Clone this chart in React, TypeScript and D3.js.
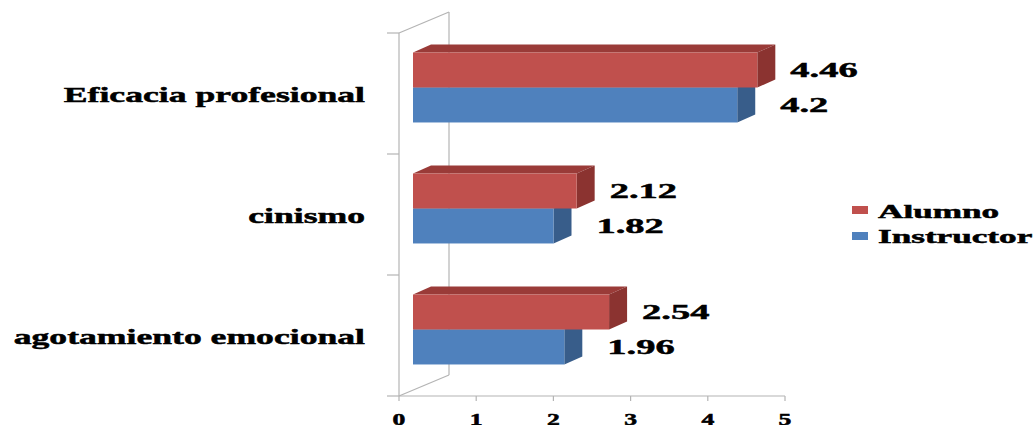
import React from "react";
import * as d3 from "d3";

// chart data
const categories = ["Eficacia profesional", "cinismo", "agotamiento emocional"];
const seriesNames = ["Alumno", "Instructor"];
const alumno = [4.46, 2.12, 2.54];
const instructor = [4.2, 1.82, 1.96];
const xTicks = [0, 1, 2, 3, 4, 5];

const colors = {
  Alumno: { front: "#c0504d", top: "#9a3b38", side: "#8b3330" },
  Instructor: { front: "#4f81bd", top: "#3f6797", side: "#385d8a" },
};

const W = 1035;
const H = 425;
const font = "'Liberation Serif', 'Times New Roman', serif";

// 3d offsets: the whole wall and the bars' depth
const wall = { dx: 50, dy: -21 };
const barFront = { dx: 14, dy: -6 };
const barDepth = { dx: 18, dy: -8 };

// text in the reference is stretched sideways and very heavy
const Stretched = ({ x, y, sx, size, anchor = "start", children }: any) => (
  <text
    transform={`translate(${x},${y}) scale(${sx},1)`}
    textAnchor={anchor}
    fontFamily={font}
    fontWeight="bold"
    fontSize={size}
    fill="#000"
    stroke="#000"
    strokeWidth={0.5}
  >
    {children}
  </text>
);

export default function App() {
  const x = d3.scaleLinear().domain([0, 5]).range([399, 785]);
  const y = d3.scaleBand().domain(categories).range([33, 396]).padding(0);
  const inner = d3
    .scaleBand()
    .domain(seriesNames)
    .range([0, y.bandwidth()])
    .paddingInner(0)
    .paddingOuter(0.73);

  const values: Record<string, number[]> = { Alumno: alumno, Instructor: instructor };
  const labelGap: Record<string, number> = { Alumno: 33, Instructor: 43 };

  const x0 = x(0);
  const yTop = y.range()[0];
  const yBot = y.range()[1];
  const gray = "#b4b4b4";

  // draw Instructor first so the Alumno bar sits over it
  const drawOrder = ["Instructor", "Alumno"];

  const bar = (name: string, i: number) => {
    const v = values[name][i];
    const c = (colors as any)[name];
    const bx0 = x(0) + barFront.dx;
    const bx1 = x(v) + barFront.dx;
    const by0 = (y(categories[i]) as number) + (inner(name) as number) + barFront.dy;
    const by1 = by0 + inner.bandwidth();
    const { dx, dy } = barDepth;
    const topFace = `M${bx0},${by0}L${bx0 + dx},${by0 + dy}L${bx1 + dx},${by0 + dy}L${bx1},${by0}Z`;
    const sideFace = `M${bx1},${by0}L${bx1 + dx},${by0 + dy}L${bx1 + dx},${by1 + dy}L${bx1},${by1}Z`;
    return (
      <g key={name + i}>
        <path d={topFace} fill={c.top} />
        <path d={sideFace} fill={c.side} />
        <rect x={bx0} y={by0} width={bx1 - bx0} height={by1 - by0} fill={c.front} />
      </g>
    );
  };

  return (
    <svg width={W} height={H} style={{ position: "absolute", left: 0, top: 0, background: "#fff" }}>
      {/* walls */}
      <g stroke={gray} strokeWidth={1.2} fill="none">
        <line x1={x0} y1={yTop} x2={x0} y2={yBot} />
        <line x1={x0 + wall.dx} y1={yTop + wall.dy} x2={x0 + wall.dx} y2={yBot + wall.dy} />
        <line x1={x0} y1={yTop} x2={x0 + wall.dx} y2={yTop + wall.dy} />
        <line x1={x0} y1={yBot} x2={x0 + wall.dx} y2={yBot + wall.dy} />
        <line x1={x0} y1={yBot} x2={x(5)} y2={yBot} />
        {[...categories.map((d) => y(d) as number), yBot].map((yy, i) => (
          <line key={"lt" + i} x1={x0 - 12} y1={yy} x2={x0} y2={yy} />
        ))}
        {xTicks.map((t) => (
          <line key={"bt" + t} x1={x(t)} y1={yBot} x2={x(t)} y2={yBot + 5} />
        ))}
      </g>

      {/* bars */}
      {categories.map((_, i) => drawOrder.map((name) => bar(name, i)))}

      {/* value labels */}
      {categories.map((cat, i) =>
        seriesNames.map((name) => {
          const v = values[name][i];
          const cy = (y(cat) as number) + (inner(name) as number) + barFront.dy + inner.bandwidth() / 2;
          return (
            <Stretched key={"v" + name + i} x={x(v) + barFront.dx + labelGap[name]} y={cy + 7} sx={1.75} size={22}>
              {v}
            </Stretched>
          );
        })
      )}

      {/* category labels */}
      {categories.map((cat) => (
        <Stretched key={cat} x={365} y={(y(cat) as number) + y.bandwidth() / 2 + 8} sx={1.62} size={22} anchor="end">
          {cat}
        </Stretched>
      ))}

      {/* x tick labels */}
      {xTicks.map((t) => (
        <Stretched key={"xl" + t} x={x(t)} y={425} sx={1.6} size={16} anchor="middle">
          {t}
        </Stretched>
      ))}

      {/* legend */}
      {seriesNames.map((name, i) => (
        <g key={"lg" + name}>
          <rect x={852} y={206 + i * 26} width={16} height={8} fill={(colors as any)[name].front} />
          <Stretched x={878} y={218 + i * 25} sx={1.85} size={19}>
            {name}
          </Stretched>
        </g>
      ))}
    </svg>
  );
}
